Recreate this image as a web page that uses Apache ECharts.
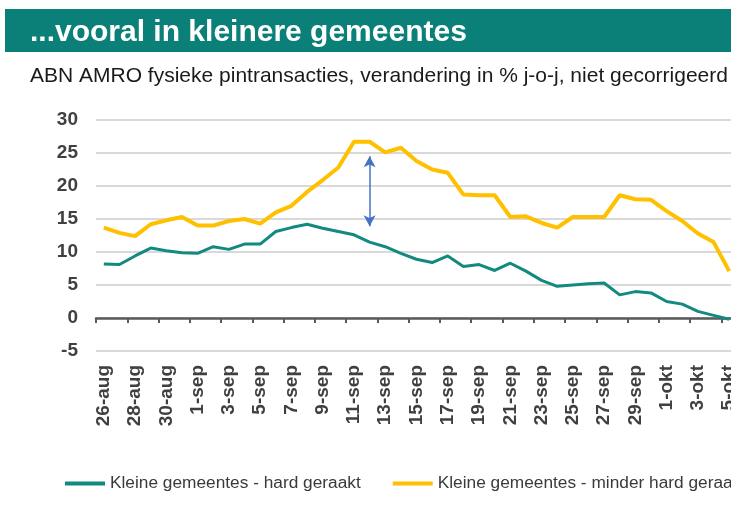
<!DOCTYPE html>
<html>
<head>
<meta charset="utf-8">
<title>vooral in kleinere gemeentes</title>
<script src="https://cdn.jsdelivr.net/npm/echarts@6.0.0/dist/echarts.min.js"></script>
<style>
    html, body { margin: 0; padding: 0; background: #fff; overflow: hidden; }
    #main { width: 900px; height: 519px; }
</style>
</head>
<body>
<div id="main"></div>
<script>
// dagen (26 aug t/m 5 okt)
var day_list = [
    '26-aug','27-aug','28-aug','29-aug','30-aug','31-aug',
    '1-sep','2-sep','3-sep','4-sep','5-sep','6-sep','7-sep','8-sep','9-sep','10-sep',
    '11-sep','12-sep','13-sep','14-sep','15-sep','16-sep','17-sep','18-sep','19-sep','20-sep',
    '21-sep','22-sep','23-sep','24-sep','25-sep','26-sep','27-sep','28-sep','29-sep','30-sep',
    '1-okt','2-okt','3-okt','4-okt','5-okt'
];
// Kleine gemeentes - hard geraakt
var hard_list = [
    8.2, 8.1, 9.4, 10.6, 10.2, 9.9, 9.8, 10.8, 10.4, 11.2,
    11.2, 13.1, 13.7, 14.2, 13.6, 13.1, 12.6, 11.5, 10.8, 9.8,
    8.9, 8.4, 9.4, 7.8, 8.1, 7.2, 8.3, 7.1, 5.7, 4.8,
    5.0, 5.2, 5.3, 3.5, 4.0, 3.8, 2.5, 2.1, 1.0, 0.4,
    -0.2
];
// Kleine gemeentes - minder hard geraakt
var minder_list = [
    13.7, 12.9, 12.4, 14.2, 14.8, 15.3, 14.0, 14.0, 14.7, 15.0,
    14.3, 16.0, 17.0, 19.1, 20.9, 22.8, 26.7, 26.7, 25.1, 25.8,
    23.8, 22.5, 22.0, 18.7, 18.6, 18.6, 15.3, 15.4, 14.4, 13.7,
    15.3, 15.3, 15.3, 18.6, 18.0, 17.9, 16.2, 14.7, 12.8, 11.5,
    7.1
];
// pijl tussen de twee lijnen
var arrow_day  = '12-sep';
var arrow_from = 13.9;
var arrow_to   = 24.5;

var y_min = -5;
var y_max = 30;
var y_step = 5;

var series_names = ['Kleine gemeentes - hard geraakt', 'Kleine gemeentes - minder hard geraakt'];

var myChart = echarts.init(document.getElementById('main'));
var font = '"Liberation Sans", Arial, sans-serif';

var option = {
    animation: false,
    color: ['#138a80', '#ffc000'],
    graphic: [{
        type: 'rect',
        z: 0,
        shape: { x: 5, y: 9, width: 900, height: 43 },
        style: { fill: '#0b8078' }
    }],
    title: [{
        text: '...vooral in kleinere gemeentes',
        left: 25,
        top: 13,
        textStyle: { color: '#ffffff', fontSize: 30, fontWeight: 'bold', fontFamily: font }
    }, {
        text: 'ABN AMRO fysieke pintransacties, verandering in % j-o-j, niet gecorrigeerd',
        left: 25,
        top: 61,
        textStyle: { color: '#1a1a1a', fontSize: 21, fontWeight: 'normal', fontFamily: font }
    }],
    legend: {
        data: series_names,
        left: 60,
        top: 470,
        icon: 'rect',
        itemWidth: 40,
        itemHeight: 4,
        itemGap: 32,
        textStyle: { color: '#3a3a3a', fontSize: 17.3, fontFamily: font }
    },
    grid: {
        left: 96,
        top: 120,
        width: 641,
        height: 231
    },
    xAxis: {
        type: 'category',
        data: day_list,
        boundaryGap: true,
        axisLine: { onZero: true, lineStyle: { color: '#595959', width: 2.5 } },
        axisTick: { show: true, interval: 1, length: 5, lineStyle: { color: '#595959', width: 2 } },
        axisLabel: {
            interval: 1,
            rotate: 90,
            margin: 14,
            color: '#404040',
            fontSize: 19,
            fontWeight: 'bold',
            fontFamily: font
        },
        splitLine: { show: false }
    },
    yAxis: {
        type: 'value',
        min: y_min,
        max: y_max,
        interval: y_step,
        axisLine: { show: false },
        axisTick: { show: false },
        axisLabel: { margin: 18, color: '#404040', fontSize: 19, fontWeight: 'bold', fontFamily: font },
        splitLine: { lineStyle: { color: '#d9d9d9', width: 2 } }
    },
    series: [{
        name: series_names[0],
        type: 'line',
        data: hard_list,
        symbol: 'none',
        lineStyle: { width: 3 },
        z: 3,
        markLine: {
            silent: true,
            symbol: ['arrow', 'arrow'],
            symbolSize: [9, 11],
            label: { show: false },
            lineStyle: { color: '#4472c4', width: 1.5, type: 'solid' },
            data: [[
                { coord: [arrow_day, arrow_from] },
                { coord: [arrow_day, arrow_to] }
            ]]
        }
    }, {
        name: series_names[1],
        type: 'line',
        data: minder_list,
        symbol: 'none',
        lineStyle: { width: 4 },
        z: 2
    }]
};
myChart.setOption(option);
</script>
</body>
</html>
